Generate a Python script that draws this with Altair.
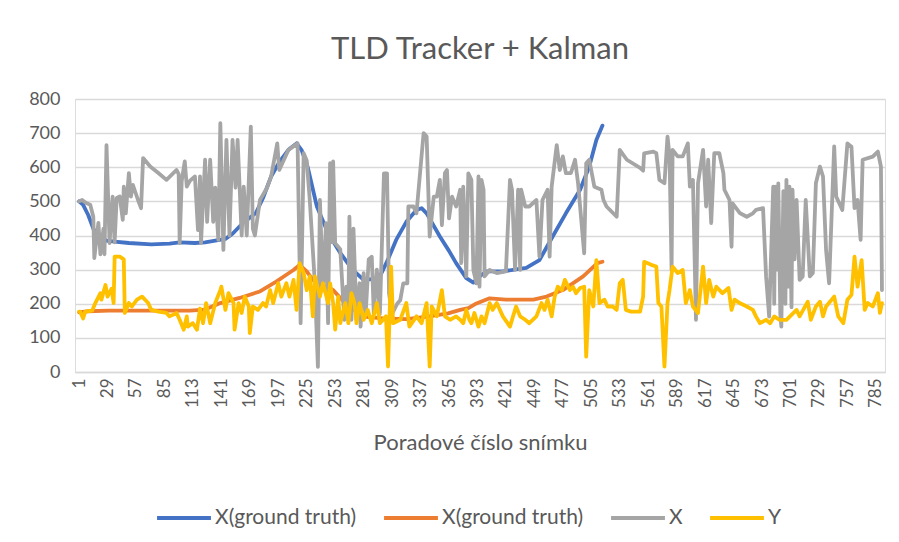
import altair as alt
import pandas as pd

# ---------------- data ----------------
series_names = ["X(ground truth)", "X(ground truth) ", "X", "Y"]
series_colors = ["#4472C4", "#ED7D31", "#A5A5A5", "#FFC000"]

x_tick_labels = [1, 29, 57, 85, 113, 141, 169, 197, 225, 253, 281, 309, 337, 365,
                 393, 421, 449, 477, 505, 533, 561, 589, 617, 645, 673, 701, 729, 757, 785]
y_tick_labels = [0, 100, 200, 300, 400, 500, 600, 700, 800]

blue_frames = [1, 5, 10, 15, 20, 28, 36, 50, 72, 90, 100, 115, 125, 135, 145, 152, 162, 175, 182,
               190, 198, 207, 215, 220, 226, 235, 246, 258, 270, 281, 290, 297, 305, 313, 323, 333,
               338, 343, 356, 365, 372, 382, 389, 395, 402, 418, 441, 454, 467, 480, 494, 503, 510, 516]
blue_values = [500, 490, 460, 420, 395, 385, 382, 378, 374, 376, 380, 378, 380, 385, 390, 405, 436,
               466, 510, 573, 615, 651, 670, 650, 600, 485, 407, 349, 300, 270, 272, 280, 330, 387,
               440, 475, 480, 465, 397, 355, 319, 275, 262, 280, 295, 295, 305, 328, 397, 465, 534,
               602, 680, 722]

orange_frames = [1, 10, 30, 60, 90, 110, 125, 140, 159, 179, 195, 205, 212, 218, 225, 231, 240, 251,
                 263, 281, 300, 323, 344, 364, 376, 384, 392, 405, 421, 448, 461, 477, 497, 511, 516]
orange_values = [175, 178, 180, 180, 180, 180, 183, 202, 217, 236, 265, 285, 299, 314, 295, 270, 255,
                 240, 201, 162, 157, 155, 162, 172, 182, 187, 201, 216, 212, 212, 221, 240, 280, 319, 323]

gray_frames = [1, 4, 8, 12, 15, 16, 20, 22, 25, 26, 28, 31, 34, 36, 38, 41, 44, 45, 47, 50, 52, 54, 59,
               62, 64, 71, 79, 87, 97, 99, 100, 102, 105, 107, 110, 115, 118, 120, 121, 125, 127, 130,
               133, 135, 138, 140, 143, 146, 149, 152, 155, 157, 161, 163, 166, 170, 172, 174, 179,
               186, 190, 196, 198, 201, 207, 216, 219, 222, 225, 228, 233, 236, 238, 241, 244, 246,
               248, 250, 251, 253, 258, 262, 264, 266, 267, 269, 271, 274, 277, 278, 281, 283, 286,
               289, 291, 294, 297, 301, 304, 306, 309, 314, 317, 320, 324, 325, 330, 333, 340, 343,
               346, 350, 353, 356, 358, 361, 363, 365, 368, 372, 376, 377, 379, 382, 384, 387, 389,
               392, 394, 395, 397, 399, 400, 405, 412, 421, 425, 427, 430, 433, 435, 436, 440, 444,
               451, 454, 457, 462, 464, 466, 471, 474, 477, 480, 485, 489, 492, 498, 500, 503, 508,
               515, 517, 520, 530, 533, 540, 553, 556, 557, 566, 569, 572, 577, 580, 582, 584, 585,
               590, 595, 600, 602, 605, 608, 610, 615, 618, 620, 623, 626, 631, 635, 636, 641, 643,
               644, 651, 658, 664, 667, 674, 677, 680, 684, 685, 686, 688, 689, 691, 692, 694, 696,
               697, 699, 700, 702, 703, 705, 707, 710, 713, 716, 720, 723, 726, 730, 733, 736, 739,
               744, 746, 752, 757, 761, 764, 767, 770, 772, 782, 787, 790, 791]
gray_values = [500, 504, 495, 490, 455, 334, 437, 345, 420, 345, 665, 378, 514, 380, 510, 514, 446, 543,
               465, 583, 514, 548, 504, 480, 627, 602, 583, 563, 592, 580, 378, 560, 617, 543, 560,
               573, 416, 573, 378, 622, 440, 622, 440, 540, 387, 729, 358, 680, 400, 680, 540, 680,
               400, 543, 400, 719, 420, 400, 504, 540, 573, 670, 592, 612, 651, 670, 143, 641, 620,
               504, 260, 15, 504, 240, 436, 143, 612, 380, 617, 377, 360, 153, 250, 170, 455, 153,
               420, 153, 260, 133, 290, 170, 330, 338, 170, 300, 170, 582, 582, 230, 170, 200, 210,
               260, 260, 485, 485, 465, 700, 690, 397, 514, 514, 563, 430, 583, 592, 450, 514, 485,
               534, 319, 543, 280, 582, 563, 299, 260, 573, 250, 563, 534, 280, 299, 290, 295, 563,
               534, 299, 534, 299, 534, 485, 485, 504, 338, 504, 534, 338, 543, 665, 592, 632, 583,
               583, 622, 553, 348, 612, 622, 543, 534, 504, 485, 455, 651, 622, 598, 590, 641, 646,
               641, 563, 553, 690, 632, 299, 651, 632, 632, 670, 543, 563, 153, 553, 651, 485, 622,
               436, 641, 641, 583, 534, 504, 367, 494, 466, 455, 465, 475, 480, 280, 162, 543, 200,
               543, 300, 553, 170, 133, 530, 200, 563, 250, 543, 190, 534, 330, 504, 270, 280, 504,
               280, 290, 553, 602, 573, 358, 260, 661, 514, 475, 670, 660, 480, 504, 387, 622, 631,
               646, 602, 240]

yellow_frames = [1, 2, 5, 7, 14, 17, 22, 23, 27, 29, 33, 35, 36, 41, 45, 46, 50, 53, 58, 63, 69, 72, 79,
                 87, 90, 97, 100, 104, 107, 108, 113, 117, 120, 123, 126, 130, 135, 140, 141, 145, 148,
                 153, 154, 158, 161, 164, 168, 169, 172, 177, 182, 185, 189, 192, 197, 200, 205, 208,
                 212, 215, 218, 222, 225, 228, 231, 233, 238, 241, 246, 248, 251, 253, 256, 258, 263,
                 266, 269, 272, 274, 277, 281, 285, 289, 294, 297, 303, 305, 308, 310, 317, 323, 326,
                 333, 338, 343, 346, 348, 353, 358, 361, 366, 372, 376, 379, 382, 385, 387, 390, 394,
                 397, 400, 405, 408, 412, 418, 425, 428, 431, 435, 440, 444, 451, 456, 459, 462, 466,
                 469, 472, 476, 479, 484, 487, 490, 494, 498, 500, 503, 507, 510, 513, 518, 521, 526,
                 530, 533, 536, 539, 544, 553, 556, 557, 564, 569, 571, 574, 577, 580, 582, 585, 590,
                 595, 598, 602, 605, 610, 615, 618, 621, 625, 628, 634, 640, 643, 646, 651, 658, 664,
                 667, 671, 677, 681, 685, 690, 697, 707, 710, 718, 721, 726, 730, 733, 736, 744, 748,
                 753, 757, 761, 764, 767, 771, 774, 777, 782, 787, 789, 791]
yellow_values = [177, 177, 157, 177, 180, 202, 231, 212, 255, 221, 244, 202, 338, 338, 330, 173, 202,
                 192, 212, 221, 202, 182, 177, 173, 163, 173, 153, 124, 163, 133, 143, 124, 186, 143,
                 202, 143, 202, 240, 250, 182, 231, 202, 124, 202, 173, 221, 192, 114, 192, 182, 202,
                 192, 240, 202, 260, 221, 260, 221, 270, 182, 319, 290, 240, 280, 163, 280, 221, 260,
                 202, 260, 202, 124, 221, 143, 202, 143, 231, 202, 143, 202, 153, 182, 143, 202, 143,
                 163, 16, 309, 143, 153, 202, 133, 163, 143, 202, 16, 192, 163, 240, 163, 153, 163,
                 153, 143, 182, 153, 143, 173, 133, 163, 143, 202, 182, 202, 163, 133, 163, 192, 163,
                 153, 143, 163, 202, 182, 212, 163, 221, 250, 240, 270, 240, 250, 231, 246, 250, 45,
                 240, 192, 328, 202, 212, 192, 192, 182, 260, 270, 182, 177, 177, 221, 323, 314, 309,
                 202, 192, 16, 202, 240, 309, 290, 299, 202, 240, 192, 173, 309, 202, 270, 221, 250,
                 231, 246, 182, 212, 202, 192, 182, 163, 143, 153, 143, 163, 153, 153, 182, 163, 206,
                 153, 192, 206, 163, 192, 221, 163, 143, 212, 226, 338, 250, 328, 182, 202, 192, 231,
                 173, 202]

# ---------------- build table ----------------
rows = []
for name, fs, vs in [
    (series_names[0], blue_frames, blue_values),
    (series_names[1], orange_frames, orange_values),
    (series_names[2], gray_frames, gray_values),
    (series_names[3], yellow_frames, yellow_values),
]:
    for f, v in zip(fs, vs):
        rows.append({"frame": f, "value": v, "series": name})
df = pd.DataFrame(rows)

FONT = "Lato"
TXT = "#595959"

color_scale = alt.Scale(domain=series_names, range=series_colors)

x_enc = alt.X(
    "frame:Q",
    scale=alt.Scale(domain=[-3, 794], nice=False, zero=False),
    axis=alt.Axis(
        values=x_tick_labels, labelAngle=-90, labelAlign="right", labelBaseline="middle",
        labelFontSize=17, labelColor=TXT, labelFont=FONT, labelPadding=6,
        grid=False, ticks=False, domain=True, domainColor="#d9d9d9", domainWidth=1.3,
        title="Poradové číslo snímku", titleFontSize=22, titleFont=FONT, titleColor=TXT,
        titleFontWeight="normal", titlePadding=25, labelOverlap=False,
    ),
)
y_enc = alt.Y(
    "value:Q",
    scale=alt.Scale(domain=[0, 800], nice=False),
    axis=alt.Axis(
        values=y_tick_labels, labelFontSize=18, labelColor=TXT, labelFont=FONT, labelPadding=15,
        grid=True, gridColor="#d9d9d9", gridWidth=1.3, ticks=False, domain=False, title=None,
    ),
)

layers = []
for i, name in enumerate(series_names):
    layers.append(
        alt.Chart(df)
        .transform_filter(alt.datum.series == name)
        .mark_line(strokeWidth=3.8, strokeJoin="round", strokeCap="round")
        .encode(
            x=x_enc,
            y=y_enc,
            color=alt.Color(
                "series:N", scale=color_scale,
                legend=alt.Legend(
                    title=None, orient="none", legendX=80, legendY=390, direction="horizontal",
                    symbolType="stroke", symbolStrokeWidth=4, symbolSize=2900,
                    labelFontSize=21, labelColor=TXT, labelFont=FONT, labelOffset=2,
                    labelLimit=400, columnPadding=19,
                ),
            ),
        )
    )

chart = (
    alt.layer(*layers)
    .properties(
        width=810,
        height=273,
        title=alt.TitleParams(
            "TLD Tracker + Kalman", fontSize=31, font=FONT, color=TXT, fontWeight="normal",
            anchor="middle", offset=24,
        ),
        autosize=alt.AutoSizeParams(type="none"),
        padding={"left": 67, "top": 91, "right": 6, "bottom": 162},
    )
    .configure_view(stroke=None)
    .configure(background="white")
)

chart.save("out.html", embed_options={"renderer": "svg", "actions": False})
